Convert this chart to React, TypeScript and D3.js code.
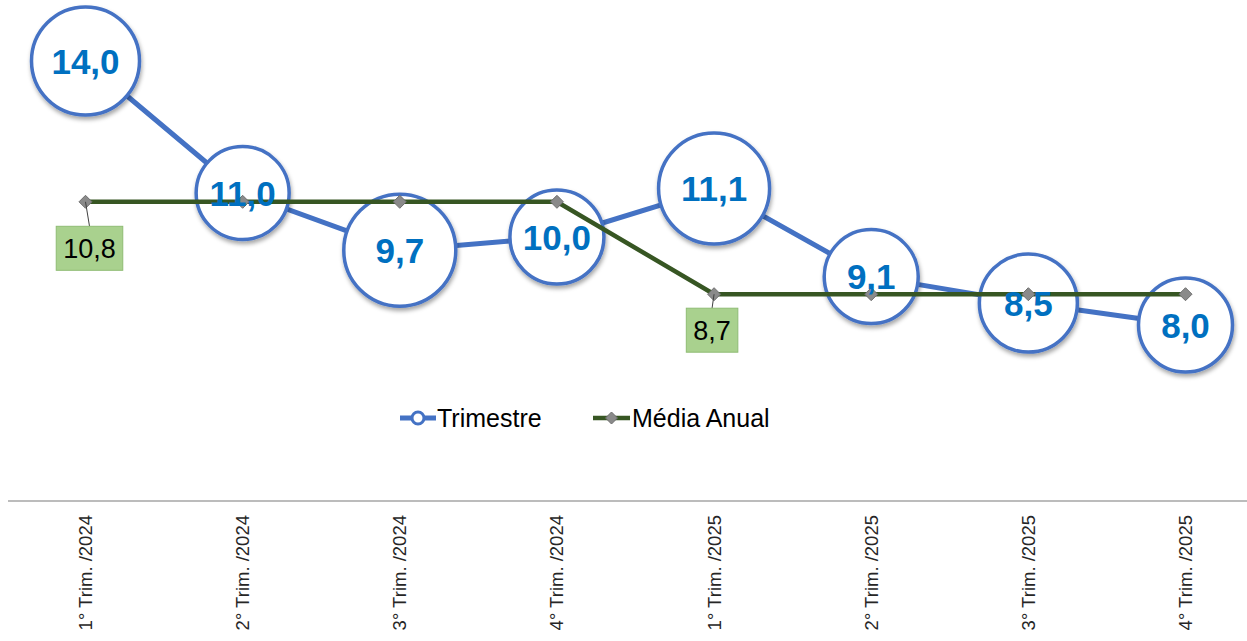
import React from 'react';
import * as d3 from 'd3';

// ---------- DATA ----------
const categories: string[] = [
  '1° Trim. /2024',
  '2° Trim. /2024',
  '3° Trim. /2024',
  '4° Trim. /2024',
  '1° Trim. /2025',
  '2° Trim. /2025',
  '3° Trim. /2025',
  '4° Trim. /2025',
];
const trimestre: number[] = [14.0, 11.0, 9.7, 10.0, 11.1, 9.1, 8.5, 8.0];
const mediaAnual: number[] = [10.8, 10.8, 10.8, 10.8, 8.7, 8.7, 8.7, 8.7];
const mediaLabelIndices: number[] = [0, 4];
const seriesNames: string[] = ['Trimestre', 'Média Anual'];
const yDomain: [number, number] = [4, 14];

// ---------- STYLE ----------
const W = 1247;
const H = 641;
const FONT = '"Liberation Sans", Arial, Helvetica, sans-serif';
const BLUE = '#4472C4';
const LABEL_BLUE = '#0070C0';
const GREEN = '#375623';
const bubbleRadii = [54, 46.5, 56, 47, 55.5, 47, 49, 47];
const mediaLabelOffsets = [
  { dx: 4, dy: 24.5 },
  { dx: -2, dy: 14 },
];

const fmt = (v: number) => v.toFixed(1).replace('.', ',');

function diamondPath(cx: number, cy: number, r: number) {
  return `M${cx},${cy - r}L${cx + r},${cy}L${cx},${cy + r}L${cx - r},${cy}Z`;
}

export default function App() {
  const x = d3.scalePoint<string>().domain(categories).range([85.5, 1185.5]);
  const y = d3.scaleLinear().domain(yDomain).range([501, 61]);

  const line = d3
    .line<number>()
    .x((_, i) => x(categories[i]) as number)
    .y((d) => y(d));

  const axisY = y(yDomain[0]);
  const labelFont = 27;
  const bubbleFont = 35;

  return (
    <svg
      width={W}
      height={H}
      style={{ position: 'absolute', left: 0, top: 0, background: '#fff' }}
      fontFamily={FONT}
    >
      <defs>
        <filter id="shadow" x="-30%" y="-30%" width="160%" height="170%">
          <feDropShadow dx="1" dy="3" stdDeviation="2" floodColor="#000" floodOpacity="0.35" />
        </filter>
      </defs>
      <rect x={0} y={0} width={W} height={H} fill="#fff" />

      {/* axis line */}
      <line x1={8} x2={W} y1={axisY} y2={axisY} stroke="#a6a6a6" strokeWidth={1.5} />

      {/* category labels */}
      {categories.map((c) => (
        <text
          key={c}
          transform={`translate(${x(c)},${515}) rotate(-90)`}
          textAnchor="end"
          dy="0.35em"
          fontSize={18.5}
          fill="#262626"
        >
          {c}
        </text>
      ))}

      {/* Trimestre line */}
      <path d={line(trimestre) || ''} fill="none" stroke={BLUE} strokeWidth={5} strokeLinejoin="round" />

      {/* Trimestre bubbles */}
      {trimestre.map((v, i) => (
        <circle
          key={'b' + i}
          cx={x(categories[i])}
          cy={y(v)}
          r={bubbleRadii[i]}
          fill="#fff"
          stroke={BLUE}
          strokeWidth={3.5}
          filter="url(#shadow)"
        />
      ))}

      {/* Média Anual line */}
      <path d={line(mediaAnual) || ''} fill="none" stroke={GREEN} strokeWidth={4.5} strokeLinejoin="miter" />

      {/* Média markers */}
      {mediaAnual.map((v, i) => (
        <path
          key={'m' + i}
          d={diamondPath(x(categories[i]) as number, y(v), 6.5)}
          fill="#8a8a8a"
          stroke="#6f6f6f"
          strokeWidth={1}
        />
      ))}

      {/* Média labels */}
      {mediaLabelIndices.map((idx, k) => {
        const px = x(categories[idx]) as number;
        const py = y(mediaAnual[idx]);
        const txt = fmt(mediaAnual[idx]);
        const tw = txt.split('').reduce((s, ch) => s + (ch === ',' ? 0.278 : 0.556), 0) * labelFont;
        const bw = tw + 14;
        const bh = 44;
        const cx = px + mediaLabelOffsets[k].dx;
        const top = py + mediaLabelOffsets[k].dy;
        return (
          <g key={'ml' + idx}>
            <line x1={px} y1={py} x2={cx} y2={top} stroke="#404040" strokeWidth={1} />
            <rect x={cx - bw / 2} y={top} width={bw} height={bh} fill="#a9d18e" stroke="#8fbc74" strokeWidth={1} />
            <text x={cx} y={top + bh / 2} dy="0.36em" textAnchor="middle" fontSize={labelFont} fill="#000">
              {txt}
            </text>
          </g>
        );
      })}

      {/* Trimestre labels */}
      {trimestre.map((v, i) => (
        <text
          key={'t' + i}
          x={x(categories[i])}
          y={y(v)}
          dy="0.36em"
          textAnchor="middle"
          fontSize={bubbleFont}
          fontWeight="bold"
          fill={LABEL_BLUE}
        >
          {fmt(v)}
        </text>
      ))}

      {/* Legend */}
      <g>
        <line x1={400} x2={436} y1={418} y2={418} stroke={BLUE} strokeWidth={5} />
        <circle cx={418} cy={418} r={6} fill="#fff" stroke={BLUE} strokeWidth={3} />
        <text x={437} y={427} fontSize={25} fill="#000">
          {seriesNames[0]}
        </text>
        <line x1={593} x2={630} y1={418} y2={418} stroke={GREEN} strokeWidth={4.5} />
        <path d={diamondPath(611.5, 418, 6)} fill="#8a8a8a" stroke="#6f6f6f" strokeWidth={1} />
        <text x={632} y={427} fontSize={25} fill="#000">
          {seriesNames[1]}
        </text>
      </g>
    </svg>
  );
}
